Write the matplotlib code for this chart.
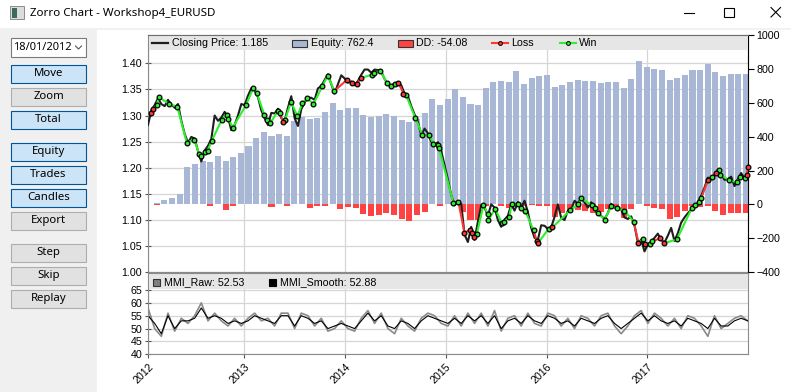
import numpy as np
import matplotlib
matplotlib.use('Agg')
import matplotlib.pyplot as plt
from matplotlib.patches import Rectangle

W, H = 791, 392

# closing price, sampled about every 12 days
price_first, price_last = 2012.044, 2017.998
price = [1.282, 1.310, 1.320, 1.333, 1.322, 1.318, 1.330, 1.321, 1.315, 1.322,
         1.290, 1.265, 1.248, 1.259, 1.256, 1.232, 1.212, 1.233, 1.242, 1.255,
         1.300, 1.290, 1.296, 1.307, 1.297, 1.272, 1.282, 1.300, 1.322, 1.320,
         1.338, 1.352, 1.348, 1.335, 1.310, 1.295, 1.282, 1.305, 1.304, 1.313,
         1.295, 1.290, 1.315, 1.337, 1.295, 1.280, 1.312, 1.325, 1.334, 1.334,
         1.330, 1.352, 1.356, 1.368, 1.379, 1.360, 1.342, 1.360, 1.377, 1.371,
         1.363, 1.365, 1.358, 1.366, 1.378, 1.388, 1.388, 1.382, 1.388, 1.387,
         1.384, 1.370, 1.360, 1.356, 1.362, 1.363, 1.358, 1.342, 1.337, 1.318,
         1.302, 1.288, 1.262, 1.275, 1.266, 1.250, 1.244, 1.249, 1.232, 1.205,
         1.178, 1.148, 1.128, 1.136, 1.131, 1.072, 1.058, 1.087, 1.062, 1.097,
         1.128, 1.124, 1.108, 1.130, 1.124, 1.100, 1.087, 1.101, 1.108, 1.130,
         1.118, 1.134, 1.124, 1.137, 1.115, 1.085, 1.066, 1.062, 1.090, 1.089,
         1.083, 1.086, 1.106, 1.130, 1.104, 1.100, 1.118, 1.120, 1.137, 1.131,
         1.143, 1.134, 1.124, 1.134, 1.123, 1.111, 1.108, 1.102, 1.113, 1.131,
         1.124, 1.125, 1.120, 1.105, 1.102, 1.107, 1.090, 1.057, 1.062, 1.040,
         1.053, 1.058, 1.066, 1.074, 1.062, 1.057, 1.070, 1.085, 1.060, 1.075,
         1.095, 1.105, 1.113, 1.120, 1.126, 1.133, 1.146, 1.162, 1.181, 1.180,
         1.187, 1.196, 1.188, 1.177, 1.178, 1.183, 1.165, 1.178, 1.190, 1.180,
         1.185]

# equity and drawdown, one bar per 4 weeks
bar_first, bar_last = 2012.130, 2017.981
equity = [6, 24, 41, 59, 224, 236, 254, 248, 289, 254, 278, 301, 348, 390, 425, 402,
          413, 402, 490, 514, 502, 508, 543, 596, 555, 567,
          567, 526, 514, 520, 531, 520, 496, 484, 502, 537, 620, 585, 620, 679, 632, 591,
          585, 685, 720, 726, 720, 785, 709, 744, 756, 762,
          691, 703, 720, 732, 726, 726, 715, 720, 720, 685, 738, 844, 809, 797, 791, 732,
          744, 762, 791, 791, 827, 780, 756, 768, 768, 768]
drawdown = [-5, 0, 0, 0, 0, 0, 0, -6, 0, -33, -10, 0, 0, 0, 0, -16,
            0, -10, 0, 0, -22, -10, -10, 0, -28, -16,
            -22, -57, -67, -63, -51, -63, -87, -98, -63, -45, 0, -10, 0, 0, -45, -90,
            -90, -10, 0, -8, -18, -10, -6, -4, -10, -6,
            -73, -49, -39, -33, -39, -49, -45, -26, -14, -79, -26, 0, -10, -22, -26, -87,
            -75, -39, -10, -14, -10, -39, -63, -51, -51, -51]

# trade entry/exit points, 1 = win, 0 = loss
trade_t = [2012.074, 2012.097, 2012.130, 2012.153, 2012.253, 2012.335, 2012.428, 2012.504,
           2012.550, 2012.570, 2012.610, 2012.637, 2012.676, 2012.776, 2012.825, 2012.842,
           2012.885, 2013.017, 2013.090, 2013.123, 2013.199, 2013.222, 2013.256, 2013.332,
           2013.352, 2013.388, 2013.405, 2013.464, 2013.527, 2013.577, 2013.626, 2013.686,
           2013.775, 2013.828, 2013.894, 2014.017,
           2014.067, 2014.116, 2014.159, 2014.265, 2014.292, 2014.348, 2014.414, 2014.457,
           2014.497, 2014.530, 2014.580, 2014.606, 2014.696, 2014.768, 2014.835, 2014.878,
           2014.921, 2014.934, 2015.076, 2015.126, 2015.185, 2015.242, 2015.265, 2015.285,
           2015.308, 2015.374, 2015.417, 2015.424, 2015.490, 2015.556, 2015.576, 2015.629,
           2015.655, 2015.715, 2015.745, 2015.788, 2015.871, 2015.904, 2015.920, 2016.020,
           2016.059, 2016.235, 2016.317, 2016.344, 2016.450, 2016.483, 2016.509, 2016.576,
           2016.642, 2016.698, 2016.774, 2016.864, 2016.913, 2016.956, 2016.973, 2017.029,
           2017.046, 2017.128, 2017.171, 2017.294, 2017.443, 2017.469, 2017.509, 2017.536,
           2017.602, 2017.642, 2017.681, 2017.708, 2017.724, 2017.807, 2017.890, 2017.923,
           2017.966, 2017.989, 2017.998]
trade_p = [1.305, 1.313, 1.320, 1.335, 1.322, 1.317, 1.248, 1.254, 1.227, 1.222, 1.231, 1.233,
           1.251, 1.292, 1.301, 1.294, 1.277, 1.320, 1.353, 1.344, 1.301, 1.291, 1.285, 1.308,
           1.304, 1.288, 1.292, 1.326, 1.299, 1.324, 1.333, 1.322, 1.356, 1.376, 1.347, 1.368,
           1.362, 1.360, 1.372, 1.378, 1.381, 1.386, 1.363, 1.356, 1.360, 1.363, 1.342, 1.339,
           1.296, 1.263, 1.263, 1.246, 1.244, 1.237, 1.132, 1.134, 1.076, 1.081, 1.076, 1.067,
           1.073, 1.129, 1.112, 1.100, 1.122, 1.094, 1.096, 1.105, 1.131, 1.130, 1.124, 1.118,
           1.080, 1.060, 1.057, 1.083,
           1.086, 1.119, 1.130, 1.142, 1.128, 1.124, 1.113, 1.101, 1.126, 1.123, 1.118, 1.097,
           1.057, 1.063, 1.054, 1.054, 1.059, 1.065, 1.056, 1.063, 1.123, 1.128, 1.134, 1.142,
           1.176, 1.183, 1.190, 1.195, 1.187, 1.177, 1.172, 1.183, 1.180, 1.187, 1.201]
trade_win = [0, 0, 1, 1, 1, 1, 1, 1, 1, 1, 1, 1, 1, 1, 1, 1, 1, 1, 1, 1,
             1, 1, 1, 1, 1, 0, 1, 1, 1, 1, 1, 1, 1, 1, 1, 0,
             0, 0, 0, 1, 1, 1, 1, 1, 1, 0, 0, 1, 1, 1, 1, 1, 1, 1, 1, 1,
             0, 0, 0, 0, 1, 1, 1, 1, 1, 1, 1, 1, 1, 1, 1, 1, 1, 0, 0, 1,
             0, 1, 1, 1, 1, 1, 1, 1, 1, 1, 1, 1, 0, 1, 0, 1, 1, 0, 0, 1,
             1, 1, 1, 1, 0, 1, 0, 1, 1, 1, 1, 1, 1, 0, 0]

# market meanness index, sampled about every 24 days
mmi_first, mmi_last = 2012.044, 2017.998
mmi_smooth = [55, 52, 48, 55, 50, 53, 53, 54, 58, 54, 55, 54, 52, 53, 52, 53, 55, 54, 53, 52,
              55, 55, 51, 55, 54, 52, 53, 50, 51, 52, 51, 50, 53, 56, 53, 55, 51, 50, 53, 52,
              50, 53, 55, 54, 53, 52, 54, 52, 55, 53, 55, 52, 55, 50, 53, 54, 52, 55, 53, 52,
              55, 54, 52, 53, 51, 54, 53, 52, 54, 55, 52, 50, 52, 54, 56, 53, 55, 53, 52, 53,
              51, 54, 53, 52, 50, 54, 51, 51, 53, 54, 53]
mmi_raw = [58, 50, 47, 56, 49, 54, 52, 55, 60, 53, 56, 53, 51, 54, 51, 54, 56, 53, 54, 51,
           56, 56, 50, 56, 55, 51, 54, 49, 50, 53, 50, 49, 54, 57, 52, 56, 50, 48, 54, 51,
           49, 54, 56, 55, 52, 51, 55, 51, 56, 52, 56, 51, 57, 49, 54, 55, 51, 56, 52, 51,
           56, 55, 51, 54, 50, 55, 54, 51, 55, 56, 51, 48, 51, 55, 57, 52, 56, 54, 51, 54,
           50, 55, 54, 51, 47, 55, 50, 52, 54, 55, 53]

years = [2012, 2013, 2014, 2015, 2016, 2017]
buttons = ['Move', 'Zoom', 'Total', 'Equity', 'Trades', 'Candles', 'Export', 'Step', 'Skip', 'Replay']
active = ['Move', 'Total', 'Equity', 'Trades', 'Candles']

BAR_BLUE = '#a9b7d6'
DD_RED = '#ff4343'
WIN_GREEN = '#2cf02c'
LOSS_RED = '#ff3535'
GRID = '#d6d6d6'
SPINE = '#8a8a8a'
chart_font = 'Liberation Sans'
ui_font = 'Noto Sans'

fig = plt.figure(figsize=(W / 100, H / 100), dpi=100)


def frac(x0, y0, x1, y1):
    return [x0 / W, 1 - y1 / H, (x1 - x0) / W, (y1 - y0) / H]


# window background
bg = fig.add_axes([0, 0, 1, 1], zorder=0)
bg.set_xlim(0, W)
bg.set_ylim(H, 0)
bg.axis('off')
bg.add_patch(Rectangle((0, 0), W, H, color='#f0f0f0'))
bg.add_patch(Rectangle((0, 0), W, 27, color='white'))
bg.add_patch(Rectangle((97, 30), W - 97, H - 30, color='white'))

# title bar
bg.add_patch(Rectangle((10, 6), 14, 13, fc='#dcdcdc', ec='#8c8c8c', lw=0.7))
bg.add_patch(Rectangle((11.5, 7.5), 5, 10, fc='#3d6b57', lw=0))
bg.text(30, 13, 'Zorro Chart - Workshop4_EURUSD', family=ui_font, fontsize=8.3, va='center')
bg.plot([684, 694], [12.5, 12.5], color='black', lw=0.8)
bg.add_patch(Rectangle((724, 7.5), 9.5, 9.5, fill=False, ec='black', lw=0.8))
bg.plot([771, 780.5], [7.5, 17], color='black', lw=0.8)
bg.plot([771, 780.5], [17, 7.5], color='black', lw=0.8)

# left panel
bg.add_patch(Rectangle((10.5, 38), 75.5, 19, fc='white', ec='#7a7a7a', lw=0.8))
bg.text(13, 47.5, '18/01/2012', family=ui_font, fontsize=8, va='center')
bg.plot([75.5, 78.5, 81.5], [46, 49, 46], color='#555555', lw=0.8)
btn_top = [65, 88.3, 111, 143.3, 166, 189.3, 212.3, 244.3, 267.3, 290.3]
for name, top in zip(buttons, btn_top):
    on = name in active
    bg.add_patch(Rectangle((11, top), 75, 17.5, fc='#cce4f7' if on else '#e1e1e1',
                           ec='#005499' if on else '#adadad', lw=0.8))
    bg.text(48.5, top + 8.6, name, family=ui_font, fontsize=8.2, ha='center', va='center')

# main chart: price axis (grid), equity axis, overlay for price/trades
main_pos = frac(148, 35, 748, 272.3)
ax = fig.add_axes(main_pos, zorder=1)
ax.set_xlim(price_first, 2018.0)
ax.set_ylim(1.0, 1.4541)
ax.set_yticks(np.arange(1.0, 1.41, 0.05))
ax.set_yticklabels(['%.2f' % v for v in np.arange(1.0, 1.41, 0.05)])
ax.set_xticks(years[1:])
ax.tick_params(axis='x', length=0, labelbottom=False)
ax.tick_params(axis='y', direction='inout', length=4, width=0.8, color='#555555',
               labelsize=7.7, pad=2.5)
ax.grid(True, color=GRID, lw=0.9)
ax.set_axisbelow(True)
for s in ax.spines.values():
    s.set_color(SPINE)
    s.set_linewidth(0.8)
ax.spines['top'].set_color('#6e6e6e')

ax_eq = fig.add_axes(main_pos, zorder=2, sharex=ax)
ax_eq.patch.set_visible(False)
bar_x = np.linspace(bar_first, bar_last, len(equity))
ax_eq.bar(bar_x, equity, width=0.06, color=BAR_BLUE, lw=0)
ax_eq.bar(bar_x, drawdown, width=0.06, color=DD_RED, lw=0)
ax_eq.set_ylim(-400, 1000)
ax_eq.set_yticks(range(-400, 1001, 200))
ax_eq.yaxis.tick_right()
ax_eq.tick_params(axis='y', direction='out', length=4, width=0.8, color='black',
                  labelsize=7.7, pad=2)
ax_eq.tick_params(axis='x', length=0, labelbottom=False)
for k in ['left', 'top', 'bottom']:
    ax_eq.spines[k].set_visible(False)
ax_eq.spines['right'].set_color('black')
ax_eq.spines['right'].set_linewidth(0.8)
for t in ax.get_yticklabels() + ax_eq.get_yticklabels():
    t.set_family(chart_font)

ax_top = fig.add_axes(main_pos, zorder=3, sharex=ax, sharey=ax)
ax_top.axis('off')
price_x = np.linspace(price_first, price_last, len(price))
ax_top.plot(price_x, price, color='#1e1e1e', lw=1.5, zorder=2)
for i in range(len(trade_t) - 1):
    c = WIN_GREEN if trade_win[i + 1] else LOSS_RED
    ax_top.plot(trade_t[i:i + 2], trade_p[i:i + 2], color=c, lw=1.5, zorder=3)
tw = np.array(trade_win, dtype=bool)
tt = np.array(trade_t)
tp = np.array(trade_p)
ax_top.plot(tt[tw], tp[tw], 'o', ms=3.4, mfc=WIN_GREEN, mec='black', mew=0.9, zorder=4, clip_on=False)
ax_top.plot(tt[~tw], tp[~tw], 'o', ms=3.4, mfc=LOSS_RED, mec='black', mew=0.9, zorder=4, clip_on=False)

# MMI panel
mmi_pos = frac(148, 273, 748, 354.3)
axm = fig.add_axes(mmi_pos, zorder=1, sharex=ax)
mmi_x = np.linspace(mmi_first, mmi_last, len(mmi_raw))
axm.plot(mmi_x, mmi_raw, color='#8a8a8a', lw=1.2)
axm.plot(mmi_x, mmi_smooth, color='black', lw=0.8)
axm.set_ylim(40, 71.6)
axm.set_yticks(range(40, 66, 5))
axm.set_xticks([price_first] + years[1:])
axm.set_xticklabels([str(y) for y in years], rotation=45, ha='right', va='top',
                    rotation_mode='anchor', family=chart_font, fontsize=7.7)
for t in axm.get_yticklabels():
    t.set_family(chart_font)
axm.tick_params(axis='y', direction='inout', length=5, width=0.8, color='#555555',
                labelsize=7.7, pad=1.5)
axm.tick_params(axis='x', direction='out', length=3, width=0.8, color='#555555', pad=2)
axm.grid(True, color=GRID, lw=0.9)
axm.set_axisbelow(True)
for s in axm.spines.values():
    s.set_color(SPINE)
    s.set_linewidth(0.8)
axm.set_xlim(price_first, 2018.0)

# legend bands and entries drawn in pixel space on top
ui = fig.add_axes([0, 0, 1, 1], zorder=10)
ui.set_xlim(0, W)
ui.set_ylim(H, 0)
ui.axis('off')
ui.patch.set_visible(False)
ui.add_patch(Rectangle((148.5, 35.5), 599, 14.5, color='#e6e6e6', lw=0))
ui.add_patch(Rectangle((148.5, 273.5), 599, 15.5, color='#e6e6e6', lw=0))
ui.plot([148, 748], [35, 35], color='#6e6e6e', lw=0.8)
ui.plot([148, 748], [273, 273], color=SPINE, lw=0.8)

ly = 43
lkw = dict(family=chart_font, fontsize=7.7, va='center')
ui.plot([152, 168], [ly, ly], color='#1e1e1e', lw=1.6)
ui.text(172, ly, 'Closing Price: %.3f' % price[-1], **lkw)
ui.add_patch(Rectangle((292, 40), 15, 6.5, fc=BAR_BLUE, ec='#333333', lw=0.8))
ui.text(311, ly, 'Equity: %.1f' % 762.4, **lkw)
ui.add_patch(Rectangle((398, 40), 14.5, 6.5, fc=DD_RED, ec='#333333', lw=0.8))
ui.text(416, ly, 'DD: -54.08', **lkw)
ui.plot([492, 508], [ly, ly], color=LOSS_RED, lw=1.5)
ui.plot([500], [ly], 'o', ms=2.8, mfc=LOSS_RED, mec='black', mew=0.7)
ui.text(511, ly, 'Loss', **lkw)
ui.plot([560, 576], [ly, ly], color=WIN_GREEN, lw=1.5)
ui.plot([568], [ly], 'o', ms=2.8, mfc=WIN_GREEN, mec='black', mew=0.7)
ui.text(579, ly, 'Win', **lkw)

my = 282
ui.add_patch(Rectangle((152.5, 279), 7, 7, fc='#808080', ec='#333333', lw=0.8))
ui.text(163.5, my, 'MMI_Raw: 52.53', **lkw)
ui.add_patch(Rectangle((268.5, 279), 7, 7, fc='black', ec='black', lw=0.8))
ui.text(279.5, my, 'MMI_Smooth: 52.88', **lkw)

fig.savefig('out.png', dpi=100)
